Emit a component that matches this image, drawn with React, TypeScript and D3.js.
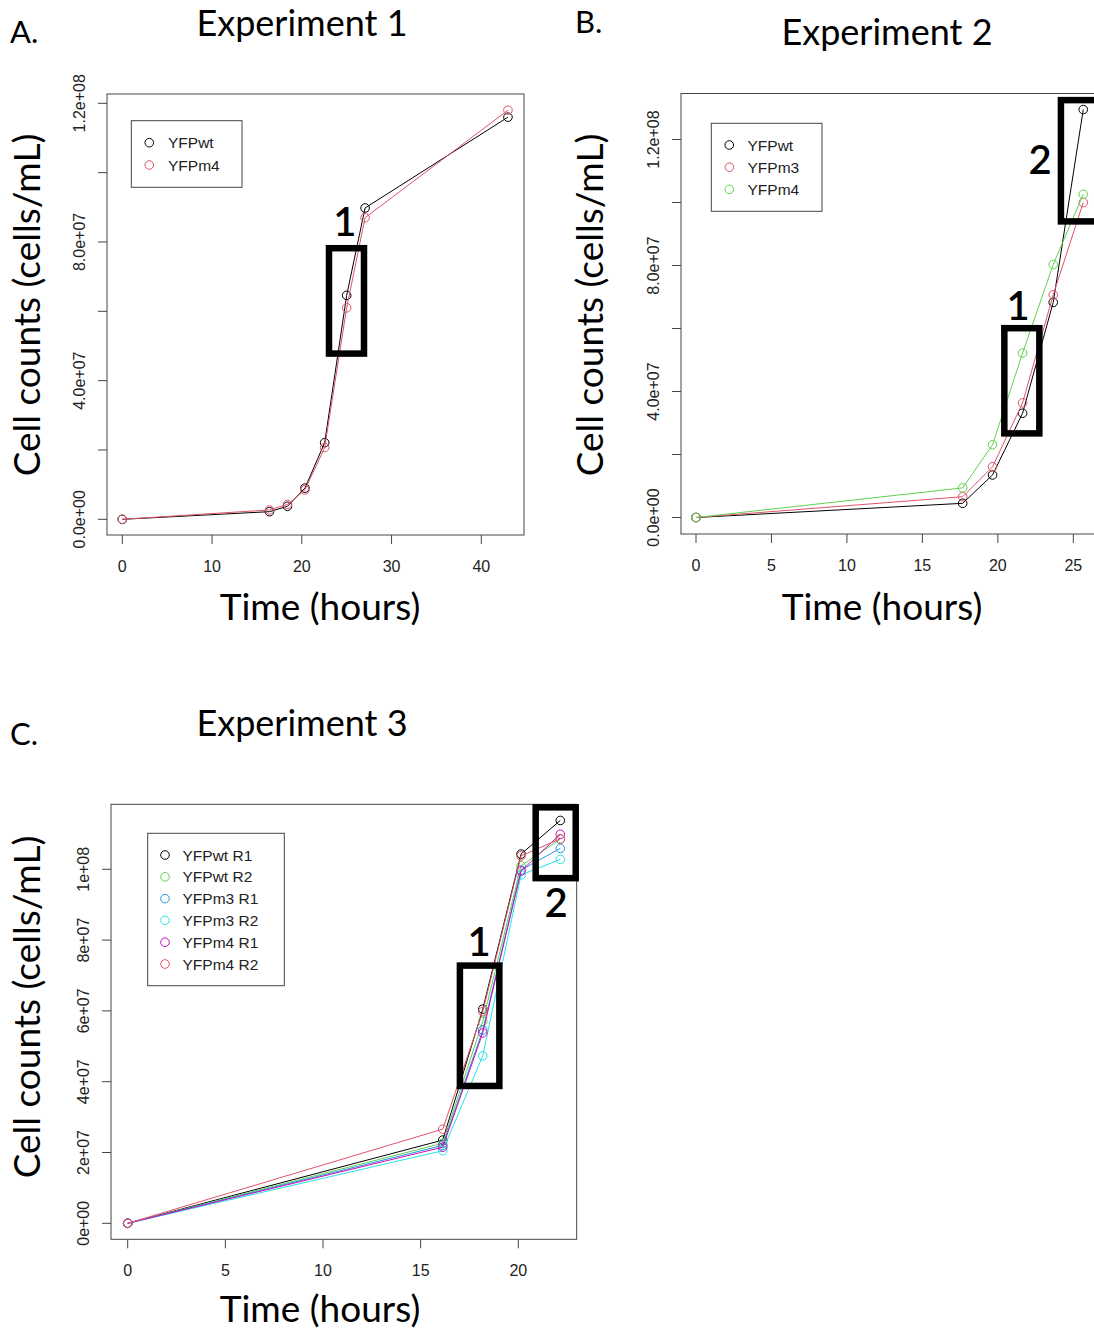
import React from 'react';
import * as d3 from 'd3';

// Experiment 1
const timeA = [0, 16.4, 18.4, 20.35, 22.55, 25.0, 27.05, 42.97];
const wtA = [0, 2.2e6, 3.75e6, 9.0e6, 2.21e7, 6.46e7, 8.98e7, 1.16e8];
const m4A = [0, 2.7e6, 4.3e6, 8.5e6, 2.07e7, 6.1e7, 8.7e7, 1.18e8];

// Experiment 2
const timeB = [0, 17.67, 19.65, 21.64, 23.67, 25.66];
const wtB = [0, 4.5e6, 1.35e7, 3.31e7, 6.83e7, 1.295e8];
const m3B = [0, 6.6e6, 1.61e7, 3.64e7, 7.07e7, 1.0e8];
const m4B = [0, 9.4e6, 2.31e7, 5.22e7, 8.03e7, 1.026e8];

// Experiment 3
const timeC = [0, 16.13, 18.18, 20.14, 22.15];
const wtR1C = [0, 2.35e7, 6.05e7, 1.043e8, 1.138e8];
const wtR2C = [0, 2.26e7, 5.7e7, 1.01e8, 1.085e8];
const m3R1C = [0, 2.2e7, 5.46e7, 9.98e7, 1.059e8];
const m3R2C = [0, 2.05e7, 4.73e7, 9.84e7, 1.028e8];
const m4R1C = [0, 2.15e7, 5.38e7, 9.95e7, 1.099e8];
const m4R2C = [0, 2.66e7, 5.98e7, 1.038e8, 1.086e8];

// highlighted regions: [t0, t1, v0, v1] and their numbers [label, t, v]
const boxesA = [[23.03, 26.93, 4.78e7, 7.82e7]];
const boxLabelsA = [['1', 24.8, 8.59e7]];
const boxesB = [[20.43, 22.75, 2.67e7, 6.01e7], [24.18, 27.5, 9.4e7, 1.325e8]];
const boxLabelsB = [['1', 21.34, 6.73e7], ['2', 22.8, 1.135e8]];
const boxesC = [[17.01, 19.03, 3.88e7, 7.28e7], [20.89, 22.94, 9.75e7, 1.175e8]];
const boxLabelsC = [['1', 17.99, 7.94e7], ['2', 21.93, 9.05e7]];

const col = {
  black: '#000000',
  red: '#DF536B',
  green: '#61D04F',
  blue: '#2297E6',
  cyan: '#28E2E5',
  magenta: '#CD0BBC',
};

const sans = '"Liberation Sans", Arial, sans-serif';
const headFont = 'Lato, "Open Sans", sans-serif';

function sci(digits) {
  return (v) => {
    const [m, e] = v.toExponential(digits).split('e');
    const sign = e[0];
    const ex = e.slice(1).padStart(2, '0');
    return `${m}e${sign}${ex}`;
  };
}

const panels = [
  {
    letter: 'A.', letterX: 10, letterY: 43,
    title: 'Experiment 1', titleX: 302, titleY: 36,
    frame: [107, 94, 524, 535],
    x: d3.scaleLinear().domain([0, 40]).range([122.3, 481.3]),
    y: d3.scaleLinear().domain([0, 1.2e8]).range([519.3, 103.3]),
    xTicks: [0, 10, 20, 30, 40],
    yTicks: [0, 2e7, 4e7, 6e7, 8e7, 1e8, 1.2e8],
    yLabelled: [0, 4e7, 8e7, 1.2e8],
    yFmt: sci(1),
    time: timeA,
    series: [
      { name: 'YFPwt', color: col.black, values: wtA },
      { name: 'YFPm4', color: col.red, values: m4A },
    ],
    legend: { x: 131.3, y: 120.7, w: 110.7, h: 66.6, first: 142.7, step: 22.3, dot: 149.3, text: 168 },
    boxes: boxesA, boxLabels: boxLabelsA,
    yTitleX: 40, yTitleY: 305, xTitleX: 320, xTitleY: 620,
  },
  {
    letter: 'B.', letterX: 575, letterY: 33,
    title: 'Experiment 2', titleX: 887, titleY: 45,
    frame: [681, 93.5, 1120, 534],
    x: d3.scaleLinear().domain([0, 25]).range([696, 1073.3]),
    y: d3.scaleLinear().domain([0, 1.2e8]).range([517.5, 139.5]),
    xTicks: [0, 5, 10, 15, 20, 25],
    yTicks: [0, 2e7, 4e7, 6e7, 8e7, 1e8, 1.2e8],
    yLabelled: [0, 4e7, 8e7, 1.2e8],
    yFmt: sci(1),
    time: timeB,
    series: [
      { name: 'YFPwt', color: col.black, values: wtB },
      { name: 'YFPm3', color: col.red, values: m3B },
      { name: 'YFPm4', color: col.green, values: m4B },
    ],
    legend: { x: 711.3, y: 123.3, w: 110.7, h: 88, first: 145, step: 22.2, dot: 729.3, text: 747.5 },
    boxes: boxesB, boxLabels: boxLabelsB,
    yTitleX: 603, yTitleY: 305, xTitleX: 882, xTitleY: 620,
  },
  {
    letter: 'C.', letterX: 10, letterY: 745,
    title: 'Experiment 3', titleX: 302, titleY: 736,
    frame: [111, 804.3, 576.7, 1239.3],
    x: d3.scaleLinear().domain([0, 20]).range([127.7, 518.3]),
    y: d3.scaleLinear().domain([0, 1e8]).range([1223.3, 869.3]),
    xTicks: [0, 5, 10, 15, 20],
    yTicks: [0, 2e7, 4e7, 6e7, 8e7, 1e8],
    yLabelled: [0, 2e7, 4e7, 6e7, 8e7, 1e8],
    yFmt: sci(0),
    time: timeC,
    series: [
      { name: 'YFPwt R1', color: col.black, values: wtR1C },
      { name: 'YFPwt R2', color: col.green, values: wtR2C },
      { name: 'YFPm3 R1', color: col.blue, values: m3R1C },
      { name: 'YFPm3 R2', color: col.cyan, values: m3R2C },
      { name: 'YFPm4 R1', color: col.magenta, values: m4R1C },
      { name: 'YFPm4 R2', color: col.red, values: m4R2C },
    ],
    legend: { x: 147.7, y: 833.3, w: 136.6, h: 152.4, first: 855, step: 21.8, dot: 165, text: 182.5 },
    boxes: boxesC, boxLabels: boxLabelsC,
    yTitleX: 40, yTitleY: 1007, xTitleX: 320, xTitleY: 1322,
  },
];

function Panel({ p }) {
  const [fx0, fy0, fx1, fy1] = p.frame;
  const line = d3.line()
    .x((d) => p.x(d[0]))
    .y((d) => p.y(d[1]));

  return (
    <g>
      <text x={p.letterX} y={p.letterY} fontFamily={headFont} fontSize={31}>{p.letter}</text>
      <text x={p.titleX} y={p.titleY} fontFamily={headFont} fontSize={36} textAnchor="middle">{p.title}</text>

      {/* frame */}
      <rect x={fx0} y={fy0} width={fx1 - fx0} height={fy1 - fy0} fill="none" stroke="#444" strokeWidth={1} />

      {/* x axis */}
      {p.xTicks.map((t) => (
        <g key={'x' + t}>
          <line x1={p.x(t)} x2={p.x(t)} y1={fy1} y2={fy1 + 9} stroke="#444" />
          <text x={p.x(t)} y={fy1 + 37} textAnchor="middle" fontFamily={sans} fontSize={16} fill="#222">{t}</text>
        </g>
      ))}

      {/* y axis */}
      {p.yTicks.map((v) => (
        <line key={'y' + v} x1={fx0} x2={fx0 - 9} y1={p.y(v)} y2={p.y(v)} stroke="#444" />
      ))}
      {p.yLabelled.map((v) => (
        <text key={'yl' + v} transform={`translate(${fx0 - 22},${p.y(v)}) rotate(-90)`}
          textAnchor="middle" fontFamily={sans} fontSize={16} fill="#222">{p.yFmt(v)}</text>
      ))}

      <text transform={`translate(${p.yTitleX},${p.yTitleY}) rotate(-90)`} textAnchor="middle"
        fontFamily={headFont} fontSize={37}>Cell counts (cells/mL)</text>
      <text x={p.xTitleX} y={p.xTitleY} textAnchor="middle" fontFamily={headFont} fontSize={37}>Time (hours)</text>

      {/* series */}
      {p.series.map((s) => {
        const pts = p.time.map((t, i) => [t, s.values[i]]);
        return (
          <g key={s.name}>
            <path d={line(pts)} fill="none" stroke={s.color} strokeWidth={1} />
            {pts.map((d, i) => (
              <circle key={i} cx={p.x(d[0])} cy={p.y(d[1])} r={4.3} fill="none" stroke={s.color} strokeWidth={1} />
            ))}
          </g>
        );
      })}

      {/* legend */}
      <rect x={p.legend.x} y={p.legend.y} width={p.legend.w} height={p.legend.h} fill="white" stroke="#444" />
      {p.series.map((s, i) => {
        const cy = p.legend.first + i * p.legend.step;
        return (
          <g key={'lg' + s.name}>
            <circle cx={p.legend.dot} cy={cy} r={4.3} fill="none" stroke={s.color} />
            <text x={p.legend.text} y={cy + 5.5} fontFamily={sans} fontSize={15.5} fill="#222">{s.name}</text>
          </g>
        );
      })}

      {/* highlighted regions */}
      {p.boxes.map((b, i) => (
        <rect key={'b' + i} x={p.x(b[0])} y={p.y(b[3])} width={p.x(b[1]) - p.x(b[0])}
          height={p.y(b[2]) - p.y(b[3])} fill="none" stroke="#000" strokeWidth={6.5} />
      ))}
      {p.boxLabels.map((l) => (
        <text key={'bl' + l[0]} x={p.x(l[1])} y={p.y(l[2]) + 14} textAnchor="middle"
          fontFamily={headFont} fontSize={40} fontWeight={600}>{l[0]}</text>
      ))}
    </g>
  );
}

export default function App() {
  return (
    <svg width={1094} height={1334} style={{ position: 'absolute', left: 0, top: 0, background: 'white' }}>
      <rect width={1094} height={1334} fill="white" />
      {panels.map((p) => <Panel key={p.letter} p={p} />)}
    </svg>
  );
}
